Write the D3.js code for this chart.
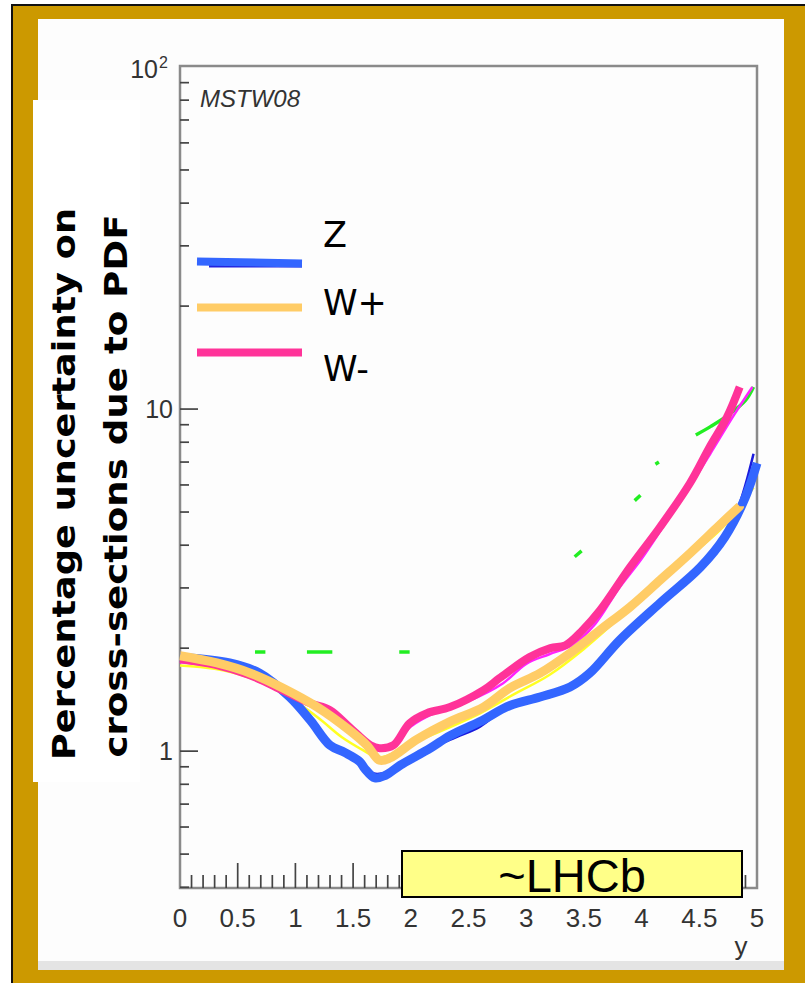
<!DOCTYPE html>
<html><head><meta charset="utf-8">
<script src="https://cdn.jsdelivr.net/npm/d3@7"></script>
<style>html,body{margin:0;padding:0;background:#fff;} svg{display:block}</style>
</head><body><svg id="c" width="805" height="983"></svg>
<script>
// PDF uncertainty (%) on W/Z cross-sections vs rapidity y, MSTW08
const seriesNames = ["Z", "W+", "W-"];
const seriesColors = ["#3366ff", "#ffcc66", "#ff3399"];

// highlighted curves [y, percent]
const zCurve = [[0,1.88],[0.43,1.81],[0.69,1.69],[0.95,1.44],[1.13,1.23],[1.3,1.04],[1.43,0.99],[1.56,0.93],[1.6,0.89],[1.69,0.835],[1.78,0.85],[1.91,0.91],[2.17,1.02],[2.34,1.11],[2.6,1.22],[2.86,1.36],[3.12,1.44],[3.38,1.54],[3.55,1.69],[3.81,2.11],[4.16,2.71],[4.51,3.45],[4.72,4.22],[4.9,5.53],[5.0,6.95]];
const wPlusCurve = [[0,1.9],[0.32,1.81],[0.61,1.69],[0.89,1.53],[1.19,1.345],[1.47,1.15],[1.62,1.04],[1.73,0.94],[1.82,0.955],[2.05,1.08],[2.34,1.22],[2.63,1.345],[2.86,1.53],[3.12,1.69],[3.38,1.935],[3.64,2.26],[3.9,2.64],[4.16,3.16],[4.42,3.79],[4.65,4.49],[4.85,5.2]];
const wMinusCurve = [[0,1.86],[0.3,1.79],[0.6,1.67],[0.9,1.5],[1.13,1.38],[1.3,1.318],[1.47,1.175],[1.65,1.041],[1.73,1.02],[1.85,1.041],[1.99,1.207],[2.14,1.291],[2.34,1.345],[2.63,1.508],[2.77,1.635],[3.03,1.883],[3.21,2.0],[3.34,2.04],[3.49,2.26],[3.64,2.58],[3.9,3.45],[4.16,4.52],[4.42,6.08],[4.59,7.75],[4.74,9.47],[4.85,11.6]];

// underlying thin curves
const zRaw = [[0,1.86],[0.3,1.8],[0.6,1.68],[0.9,1.48],[1.1,1.27],[1.3,1.06],[1.5,0.94],[1.6,0.9],[1.68,0.86],[1.8,0.87],[2.0,0.95],[2.2,1.03],[2.4,1.1],[2.6,1.18],[2.8,1.32],[3.0,1.4],[3.2,1.46],[3.4,1.56],[3.6,1.74],[3.8,2.08],[4.0,2.42],[4.2,2.8],[4.4,3.18],[4.6,3.8],[4.8,4.8],[4.97,7.4]];
const wPlusRaw = [[0,1.78],[0.3,1.74],[0.6,1.64],[0.9,1.47],[1.2,1.25],[1.4,1.1],[1.6,1.0],[1.7,0.96],[1.8,0.97],[2.0,1.05],[2.3,1.16],[2.6,1.29],[2.9,1.47],[3.2,1.67],[3.5,1.99],[3.8,2.44],[4.1,3.0],[4.4,3.68],[4.7,4.5],[4.97,5.9]];
const wMinusRaw = [[0,1.82],[0.3,1.76],[0.6,1.66],[0.9,1.5],[1.1,1.38],[1.3,1.3],[1.5,1.15],[1.65,1.03],[1.75,1.01],[1.85,1.04],[2.0,1.18],[2.2,1.29],[2.5,1.4],[2.8,1.58],[3.0,1.8],[3.2,1.92],[3.4,2.04],[3.6,2.36],[3.8,2.98],[4.0,3.65],[4.2,4.6],[4.4,5.8],[4.6,7.45],[4.8,9.6],[4.96,11.6]];
const greenRaw = [[0.65,1.95],[0.74,1.95],null,[1.1,1.95],[1.32,1.95],null,[1.9,1.95],[1.99,1.95],null,[3.42,3.7],[3.48,3.85],null,[3.94,5.4],[3.99,5.6],null,[4.12,6.9],[4.15,7.0],null,[4.47,8.4],[4.6,8.9],[4.75,9.6],[4.9,10.6],[4.97,11.6]];

const xTickValues = [0,0.5,1,1.5,2,2.5,3,3.5,4,4.5,5];
const xTickLabels = ["0","0.5","1","1.5","2","2.5","3","3.5","4","4.5","5"];
const yMajorTicks = [1,10,100];
const yTickLabels = ["1","10","10"];
const yLabelLines = ["Percentage uncertainty on", "cross-sections due to PDF"];

const svg = d3.select("#c");
const sans = "Liberation Sans, Arial, sans-serif";

// slide frame
svg.append("rect").attr("x",11).attr("y",4).attr("width",794).attr("height",979).attr("fill","#111");
svg.append("rect").attr("x",13).attr("y",6).attr("width",792).attr("height",977).attr("fill","#cc9900");
svg.append("rect").attr("x",38).attr("y",19).attr("width",746).attr("height",951).attr("fill","#fdfdfd");
svg.append("rect").attr("x",38).attr("y",961).attr("width",746).attr("height",9).attr("fill","#e4e4e4");
svg.append("rect").attr("x",33).attr("y",100).attr("width",107).attr("height",682).attr("fill","#ffffff");

const L = 180, R = 757, T = 67, B = 888;
const x = d3.scaleLinear().domain([0,5]).range([L,R]);
const y = d3.scaleLog().domain([0.398,100]).range([B,T]);

// axis frame
svg.append("rect").attr("x",L).attr("y",T-1).attr("width",R-L).attr("height",B-T+1)
  .attr("fill","none").attr("stroke","#8a8a8a").attr("stroke-width",2.5);

// y ticks (log)
const yTicks = y.ticks();
svg.append("g").selectAll("line").data(yTicks.filter(v => v < 100)).join("line")
  .attr("x1",L).attr("x2",v => L + (yMajorTicks.includes(v) ? 18 : 9))
  .attr("y1",v => y(v)).attr("y2",v => y(v))
  .attr("stroke","#444").attr("stroke-width",1.7);

// x ticks
const xMinor = d3.range(0,51).map(i => i/10);
svg.append("g").selectAll("line").data(xMinor.slice(1,50)).join("line")
  .attr("x1",v => x(v)).attr("x2",v => x(v))
  .attr("y1",B).attr("y2",(v,i) => B - ((i+1)%5===0 ? 25 : 13))
  .attr("stroke","#444").attr("stroke-width",1.7);

// x tick labels
svg.append("g").selectAll("text").data(xTickValues).join("text")
  .attr("x",v => x(v)).attr("y",927).attr("text-anchor","middle")
  .attr("font-family",sans).attr("font-size",26)
  .attr("fill","#333").text((v,i) => xTickLabels[i]);
svg.append("text").attr("x",741).attr("y",955).attr("text-anchor","middle")
  .attr("font-family",sans).attr("font-size",26)
  .attr("fill","#333").text("y");

// y tick labels
yMajorTicks.forEach((v,i) => {
  const t = svg.append("text").attr("font-family",sans)
    .attr("font-size",25).attr("fill","#333").attr("text-anchor","end");
  if (v === 100) {
    t.attr("x",158).attr("y",y(v)+11).text(yTickLabels[i]);
    svg.append("text").attr("x",159).attr("y",y(v)+1).attr("font-family",sans)
      .attr("font-size",16).attr("fill","#333").text("2");
  } else {
    t.attr("x",173).attr("y",y(v)+9).text(yTickLabels[i]);
  }
});

svg.append("text").attr("x",200).attr("y",107)
  .attr("font-family",sans).attr("font-style","italic")
  .attr("font-size",24).attr("fill","#333").text("MSTW08");

// curves
const line = d3.line().defined(d => d !== null)
  .x(d => x(d[0])).y(d => y(d[1])).curve(d3.curveCatmullRom.alpha(0.5));

const g = svg.append("g");
g.append("path").datum(greenRaw).attr("d",line).attr("fill","none").attr("stroke","#22ee22").attr("stroke-width",3.5);
g.append("path").datum(wMinusRaw).attr("d",line).attr("fill","none").attr("stroke","#ff22ff").attr("stroke-width",2.5);
g.append("path").datum(wPlusRaw).attr("d",line).attr("fill","none").attr("stroke","#ffff22").attr("stroke-width",2.5);
g.append("path").datum(zRaw).attr("d",line).attr("fill","none").attr("stroke","#1a1add").attr("stroke-width",2.5);

const thick = [zCurve, wMinusCurve, wPlusCurve];
const thickColor = [seriesColors[0], seriesColors[2], seriesColors[1]];
const thickWidth = [9, 8, 9];
thick.forEach((d,i) => {
  g.append("path").datum(d).attr("d",line).attr("fill","none")
    .attr("stroke",thickColor[i]).attr("stroke-width",thickWidth[i]).attr("stroke-linejoin","round");
});

// legend
const legY = [263, 307.5, 352.5];
const legTextY = [247, 315, 381];
svg.append("line").attr("x1",209).attr("x2",302).attr("y1",266).attr("y2",266)
  .attr("stroke","#2222dd").attr("stroke-width",3);
seriesNames.forEach((n,i) => {
  svg.append("line").attr("x1",197).attr("x2",302).attr("y1",legY[i] - (i===0?1.5:0)).attr("y2",legY[i] + (i===0?0.5:0))
    .attr("stroke",seriesColors[i]).attr("stroke-width",8);
  svg.append("text").attr("x",323).attr("y",legTextY[i])
    .attr("font-family","DejaVu Sans, Verdana, sans-serif").attr("font-size",35)
    .attr("fill","#000").text(n);
});

// rotated axis title
const titleX = [75, 127];
yLabelLines.forEach((s,i) => {
  svg.append("text").attr("transform",`translate(${titleX[i]},${i===0?484:486}) rotate(-90)`)
    .attr("text-anchor","middle").attr("font-family","DejaVu Sans, Verdana, sans-serif")
    .attr("font-weight","bold").attr("font-size",32)
    .attr("textLength", i===0 ? 552 : 543).attr("lengthAdjust","spacingAndGlyphs")
    .attr("fill","#000").text(s);
});

// LHCb acceptance box
svg.append("rect").attr("x",402).attr("y",851).attr("width",340).attr("height",46)
  .attr("fill","#ffff88").attr("stroke","#000").attr("stroke-width",2);
svg.append("text").attr("x",572).attr("y",892).attr("text-anchor","middle")
  .attr("font-family",sans).attr("font-size",47)
  .attr("fill","#000").text("~LHCb");
</script></body></html>
